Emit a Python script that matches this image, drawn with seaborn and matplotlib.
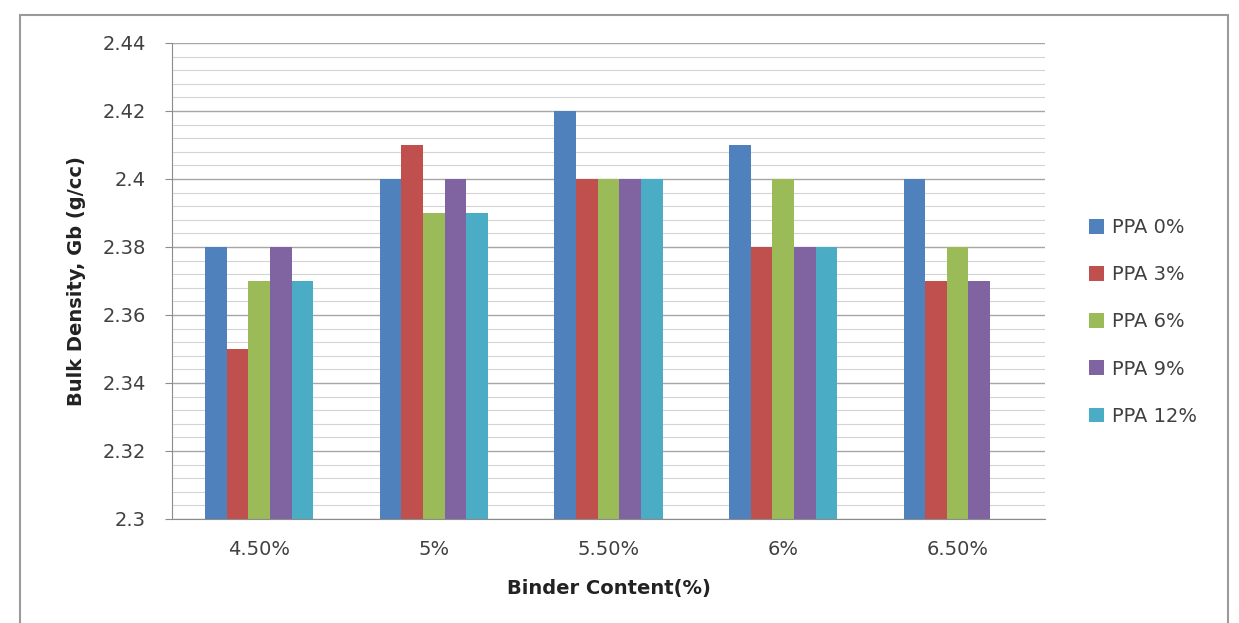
import numpy as np
import pandas as pd
import matplotlib
matplotlib.use("Agg")
import matplotlib.pyplot as plt
import seaborn as sns
from matplotlib.patches import Rectangle
from matplotlib.ticker import MultipleLocator

# data
binder = ["4.50%", "5%", "5.50%", "6%", "6.50%"]
ppa_0 = [2.38, 2.40, 2.42, 2.41, 2.40]
ppa_3 = [2.35, 2.41, 2.40, 2.38, 2.37]
ppa_6 = [2.37, 2.39, 2.40, 2.40, 2.38]
ppa_9 = [2.38, 2.40, 2.40, 2.38, 2.37]
ppa_12 = [2.37, 2.39, 2.40, 2.38, np.nan]
series = ["PPA 0%", "PPA 3%", "PPA 6%", "PPA 9%", "PPA 12%"]
colors = ["#4F81BD", "#C0504D", "#9BBB59", "#8064A2", "#4BACC6"]

df = pd.DataFrame({"binder": binder, "PPA 0%": ppa_0, "PPA 3%": ppa_3,
                   "PPA 6%": ppa_6, "PPA 9%": ppa_9, "PPA 12%": ppa_12})
long = df.melt(id_vars="binder", var_name="series", value_name="gb")

sns.set_style("white")
fig = plt.figure(figsize=(12.39, 6.23), dpi=100)
ax = fig.add_axes([0.1388, 0.167, 0.7046, 0.764])

# outer chart frame
fig.patches.append(Rectangle((20 / 1239, -0.05), 1208 / 1239, 1.05 - 15 / 623,
                             transform=fig.transFigure, fill=False,
                             edgecolor="#9a9a9a", linewidth=1.5))

sns.barplot(data=long, x="binder", y="gb", hue="series", hue_order=series,
            palette=colors, width=0.62, gap=0, saturation=1, ax=ax,
            linewidth=0)

ax.set_ylim(2.3, 2.44)
ax.set_xlim(-0.5, 4.5)
ax.yaxis.set_major_locator(MultipleLocator(0.02))
ax.yaxis.set_minor_locator(MultipleLocator(0.004))
ax.set_yticks(np.arange(2.30, 2.4401, 0.02))
ax.set_yticklabels(["2.3", "2.32", "2.34", "2.36", "2.38", "2.4", "2.42", "2.44"])
ax.grid(axis="y", which="major", color="#a6a6a6", linewidth=1.0)
ax.grid(axis="y", which="minor", color="#d4d4d4", linewidth=0.8)
ax.set_axisbelow(True)

for s in ["top", "right"]:
    ax.spines[s].set_visible(False)
ax.spines["left"].set_color("#8c8c8c")
ax.spines["bottom"].set_color("#8c8c8c")
ax.tick_params(axis="y", which="major", left=True, length=5, color="#8c8c8c",
               labelsize=14, labelcolor="#404040", pad=14)
ax.tick_params(axis="y", which="minor", left=False)
ax.tick_params(axis="x", bottom=False, labelsize=14, labelcolor="#404040", pad=12)

ax.set_xlabel("Binder Content(%)", fontsize=14, fontweight="bold",
              color="#222222", labelpad=14)
ax.set_ylabel("Bulk Density, Gb (g/cc)", fontsize=14, fontweight="bold",
              color="#222222", labelpad=12)

ax.legend(loc="center left", bbox_to_anchor=(1.03, 0.414), frameon=False,
          fontsize=14, labelspacing=1.45, handlelength=0.8, handleheight=0.8,
          handletextpad=0.4, labelcolor="#404040")

fig.savefig("out.png", dpi=100)
